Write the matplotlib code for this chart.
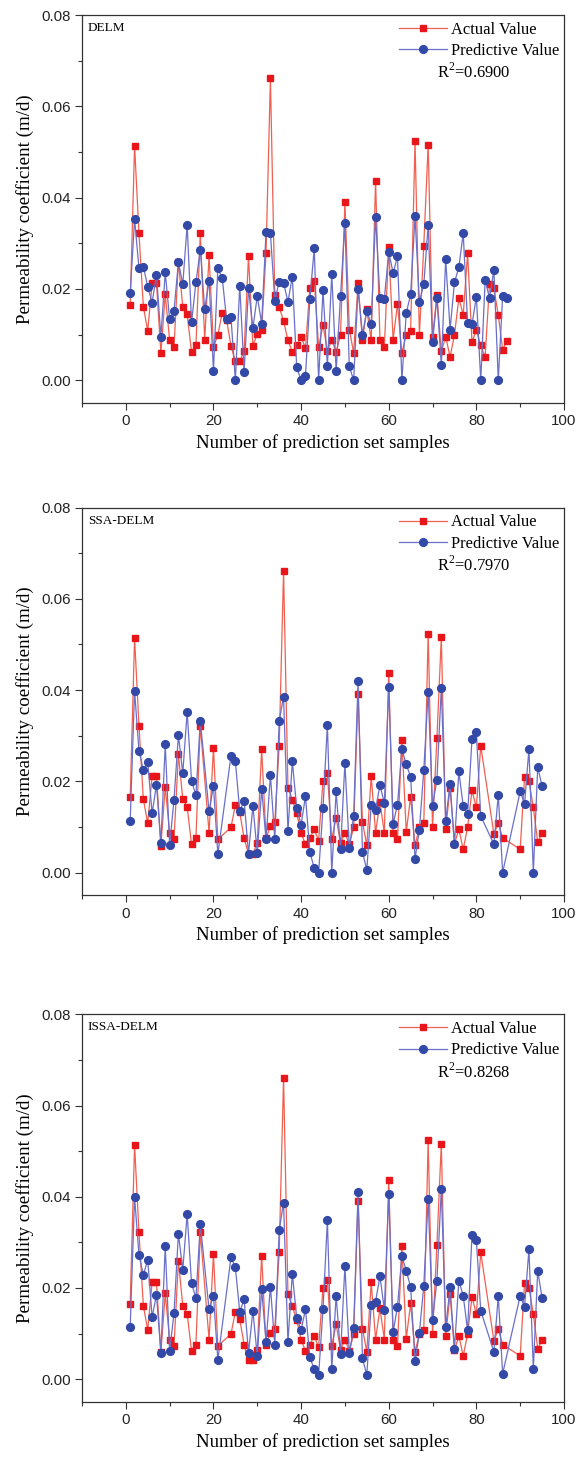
import numpy as np
import matplotlib
matplotlib.use("Agg")
import matplotlib.pyplot as plt
from matplotlib.ticker import MultipleLocator, FormatStrFormatter

# ---------------- data ----------------
actual = [0.0165, 0.0514, 0.0322, 0.0161, 0.0108, 0.0212, 0.0212, 0.0059, 0.0188, 0.0087,
          0.0073, 0.0259, 0.0161, 0.0144, 0.0062, 0.0076, 0.0322, 0.0087, 0.0274, 0.0073,
          0.0099, 0.0148, 0.0132, 0.0075, 0.0041, 0.0041, 0.0065, 0.0271, 0.0075, 0.0102,
          0.0111, 0.0278, 0.0661, 0.0186, 0.0160, 0.0130, 0.0087, 0.0062, 0.0076, 0.0095,
          0.0070, 0.0201, 0.0218, 0.0073, 0.0120, 0.0065, 0.0087, 0.0062, 0.0099, 0.0391,
          0.0111, 0.0060, 0.0212, 0.0087, 0.0155, 0.0087, 0.0437, 0.0087, 0.0073, 0.0291,
          0.0089, 0.0166, 0.0060, 0.0099, 0.0108, 0.0524, 0.0099, 0.0295, 0.0516, 0.0095,
          0.0186, 0.0063, 0.0095, 0.0051, 0.0099, 0.0180, 0.0143, 0.0278, 0.0084, 0.0109,
          0.0076, 0.0051, 0.0210, 0.0201, 0.0143, 0.0067, 0.0086]

pred_delm = [0.0190, 0.0353, 0.0245, 0.0249, 0.0205, 0.0170, 0.0231, 0.0095, 0.0236, 0.0133,
             0.0152, 0.0259, 0.0210, 0.0340, 0.0127, 0.0214, 0.0286, 0.0155, 0.0218, 0.0021,
             0.0245, 0.0224, 0.0133, 0.0138, 0.0000, 0.0207, 0.0018, 0.0201, 0.0114, 0.0184,
             0.0124, 0.0324, 0.0322, 0.0174, 0.0216, 0.0213, 0.0172, 0.0226, 0.0028, 0.0000,
             0.0010, 0.0177, 0.0289, 0.0000, 0.0197, 0.0030, 0.0232, 0.0020, 0.0185, 0.0344,
             0.0030, 0.0000, 0.0200, 0.0100, 0.0152, 0.0122, 0.0358, 0.0179, 0.0178, 0.0281,
             0.0235, 0.0271, 0.0000, 0.0147, 0.0188, 0.0359, 0.0172, 0.0210, 0.0340, 0.0084,
             0.0181, 0.0033, 0.0265, 0.0111, 0.0214, 0.0247, 0.0322, 0.0125, 0.0122, 0.0183,
             0.0000, 0.0219, 0.0180, 0.0241, 0.0000, 0.0185, 0.0180]

pred_ssa = [0.0113, 0.0398, 0.0267, 0.0225, 0.0242, 0.0130, 0.0193, 0.0064, 0.0281, 0.0060,
            0.0160, 0.0301, 0.0218, 0.0352, 0.0201, 0.0169, 0.0333, 0.0134, 0.0190, 0.0041,
            0.0256, 0.0244, 0.0135, 0.0158, 0.0041, 0.0146, 0.0044, 0.0183, 0.0073, 0.0214,
            0.0073, 0.0333, 0.0385, 0.0091, 0.0244, 0.0141, 0.0105, 0.0167, 0.0045, 0.0010,
            0.0000, 0.0141, 0.0324, 0.0000, 0.0178, 0.0051, 0.0240, 0.0053, 0.0124, 0.0421,
            0.0045, 0.0006, 0.0149, 0.0138, 0.0192, 0.0152, 0.0407, 0.0107, 0.0149, 0.0271,
            0.0237, 0.0210, 0.0030, 0.0094, 0.0224, 0.0396, 0.0145, 0.0204, 0.0405, 0.0114,
            0.0195, 0.0062, 0.0222, 0.0146, 0.0128, 0.0293, 0.0308, 0.0124, 0.0062, 0.0170,
            0.0000, 0.0178, 0.0151, 0.0271, 0.0000, 0.0231, 0.0189]

pred_issa = [0.0115, 0.0399, 0.0273, 0.0228, 0.0262, 0.0136, 0.0185, 0.0057, 0.0292, 0.0061,
             0.0145, 0.0319, 0.0240, 0.0362, 0.0210, 0.0178, 0.0340, 0.0153, 0.0183, 0.0042,
             0.0267, 0.0245, 0.0148, 0.0175, 0.0058, 0.0150, 0.0050, 0.0197, 0.0082, 0.0203,
             0.0075, 0.0327, 0.0387, 0.0082, 0.0231, 0.0134, 0.0108, 0.0153, 0.0048, 0.0022,
             0.0009, 0.0153, 0.0348, 0.0022, 0.0183, 0.0055, 0.0248, 0.0057, 0.0112, 0.0411,
             0.0046, 0.0009, 0.0163, 0.0170, 0.0226, 0.0152, 0.0406, 0.0103, 0.0159, 0.0270,
             0.0238, 0.0202, 0.0040, 0.0102, 0.0205, 0.0395, 0.0130, 0.0216, 0.0417, 0.0114,
             0.0202, 0.0066, 0.0216, 0.0183, 0.0107, 0.0316, 0.0305, 0.0150, 0.0060, 0.0183,
             0.0012, 0.0183, 0.0158, 0.0285, 0.0022, 0.0238, 0.0178]

x_delm = list(range(1, 88))
missing_ssa = [18, 22, 23, 82, 83, 87, 88, 89]
x_ssa = [k for k in range(1, 96) if k not in missing_ssa]

panel_names = ["DELM", "SSA-DELM", "ISSA-DELM"]
r2_texts = ["R$^2$=0.6900", "R$^2$=0.7970", "R$^2$=0.8268"]
xs = [x_delm, x_ssa, x_ssa]
preds = [pred_delm, pred_ssa, pred_issa]

# ---------------- figure ----------------
W, H = 582, 1457
fig = plt.figure(figsize=(W / 100, H / 100), dpi=100)
plt.rcParams["mathtext.fontset"] = "custom"
plt.rcParams["mathtext.rm"] = "Liberation Serif"

serif = ["Liberation Serif", "DejaVu Serif"]
sans = ["Liberation Sans", "DejaVu Sans"]

# pixel boxes (left, top, right, bottom)
boxes = [(82, 15, 564, 403), (82, 507.6, 564, 895.4), (82, 1014.3, 564, 1402)]

red_m = "#e8151b"
red_l = "#f06050"
blue_m = "#3349a8"
blue_l = "#6a6fc8"

for i in range(3):
    l, t, r, b = boxes[i]
    ax = fig.add_axes([l / W, 1 - b / H, (r - l) / W, (b - t) / H])
    ax.plot(xs[i], actual, color=red_l, lw=0.9, marker="s", ms=4.7,
            mfc=red_m, mec=red_m, label="Actual Value", zorder=2)
    ax.plot(xs[i], preds[i], color=blue_l, lw=0.9, marker="o", ms=5.6,
            mfc=blue_m, mec=blue_m, label="Predictive Value", zorder=3)
    ax.set_xlim(-10, 100)
    ax.set_ylim(-0.005, 0.08)
    ax.xaxis.set_major_locator(MultipleLocator(20))
    ax.xaxis.set_minor_locator(MultipleLocator(10))
    ax.yaxis.set_major_locator(MultipleLocator(0.02))
    ax.yaxis.set_minor_locator(MultipleLocator(0.01))
    ax.yaxis.set_major_formatter(FormatStrFormatter("%.2f"))
    ax.tick_params(which="both", direction="out", top=False, right=False,
                   color="#333333", width=0.8)
    ax.tick_params(which="major", length=5, labelsize=10.8, pad=3)
    ax.tick_params(which="minor", length=3)
    for lab in ax.get_xticklabels() + ax.get_yticklabels():
        lab.set_family(sans)
        lab.set_color("#222222")
    for s in ax.spines.values():
        s.set_linewidth(0.9)
        s.set_color("#333333")
    ax.set_xlabel("Number of prediction set samples", family=serif, fontsize=13.5,
                  labelpad=4)
    ax.set_ylabel("Permeability coefficient (m/d)", family=serif, fontsize=13.7,
                  labelpad=5)
    leg = ax.legend(loc="upper right", bbox_to_anchor=(1.0, 0.995), frameon=False,
                    prop={"family": serif, "size": 11.9},
                    handlelength=2.9, handletextpad=0.25, borderaxespad=0.1,
                    borderpad=0.2, labelspacing=0.32)
    ax.text(0.736, 0.852, r2_texts[i], transform=ax.transAxes, family=serif,
            fontsize=11.9, ha="left", va="center")
    ax.text(0.012, 0.966, panel_names[i], transform=ax.transAxes, family=serif,
            fontsize=9.5, ha="left", va="center")

fig.savefig("out.png", dpi=100)
